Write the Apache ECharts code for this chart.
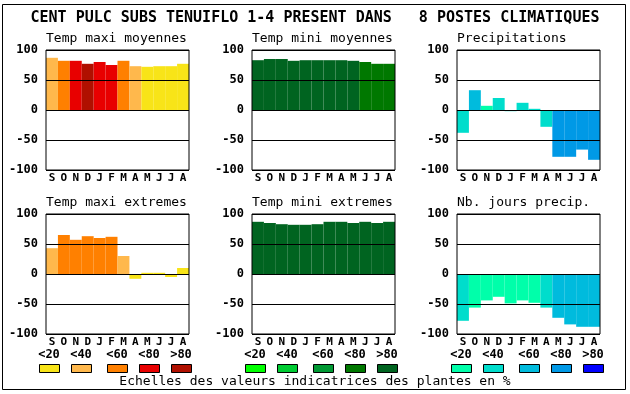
<!DOCTYPE html>
<html><head><meta charset="utf-8">
<script src="https://cdn.jsdelivr.net/npm/echarts@6/dist/echarts.min.js"></script>
<style>html,body{margin:0;padding:0;background:#fff}#c{width:630px;height:394px}</style>
</head><body><div id="c"></div>
<script>
var months = ['S','O','N','D','J','F','M','A','M','J','J','A'];
var yTicks = [-100, -50, 0, 50, 100];
var mainTitle = 'CENT PULC SUBS TENUIFLO 1-4 PRESENT DANS   8 POSTES CLIMATIQUES';
var panelTitles = ['Temp maxi moyennes','Temp mini moyennes','Precipitations','Temp maxi extremes','Temp mini extremes','Nb. jours precip.'];
var classLabels = ['<20','<40','<60','<80','>80'];
var footer = 'Echelles des valeurs indicatrices des plantes en %';

var warmColors  = ['#F8E418','#FFB84C','#FF8000','#E80000','#B01000'];
var greenColors = ['#00FF00','#00CC33','#009933','#007800','#006420'];
var blueColors  = ['#00FFAA','#00DDCC','#00BBDD','#0099E6','#0000FF'];

var tmaxMoy    = [87,82,82,77,80,75,82,73,72,73,73,77];
var tmaxMoyCls = [2,3,4,5,4,4,3,2,1,1,1,1];
var tminMoy    = [83,85,85,82,83,83,83,83,82,80,77,77];
var tminMoyCls = [5,5,5,5,5,5,5,5,5,4,4,4];
var precip     = [-38,33,7,20,-2,12,2,-28,-78,-78,-66,-83];
var precipCls  = [2,3,1,2,2,2,2,2,4,4,4,4];
var tmaxExt    = [43,65,57,63,60,62,30,-8,2,2,-5,10];
var tmaxExtCls = [2,3,3,3,3,3,2,1,1,1,1,1];
var tminExt    = [87,85,83,82,82,83,87,87,85,87,85,87];
var tminExtCls = [5,5,5,5,5,5,5,5,5,5,5,5];
var nbJours    = [-78,-56,-44,-38,-49,-44,-48,-56,-73,-84,-88,-88];
var nbJoursCls = [2,1,1,1,1,1,1,2,3,3,3,3];

var panels = [
  {vals: tmaxMoy, cls: tmaxMoyCls, pal: warmColors},
  {vals: tminMoy, cls: tminMoyCls, pal: greenColors},
  {vals: precip,  cls: precipCls,  pal: blueColors},
  {vals: tmaxExt, cls: tmaxExtCls, pal: warmColors},
  {vals: tminExt, cls: tminExtCls, pal: greenColors},
  {vals: nbJours, cls: nbJoursCls, pal: blueColors}
];
var palettes = [warmColors, greenColors, blueColors];

var FONT = 'DejaVu Sans Mono';
var colLeft = [46, 252, 457];
var rowTop = [50, 214];
var plotW = 143, plotH = 120;

var grids = [], xAxes = [], yAxes = [], series = [];
var titles = [{
  text: mainTitle, left: 'center', top: 11, padding: 0,
  textStyle: {fontFamily: FONT, fontSize: 15, fontWeight: 'bold', color: '#000'}
}];
panels.forEach(function (p, i) {
  var c = i % 3, r = Math.floor(i / 3);
  grids.push({left: colLeft[c], top: rowTop[r], width: plotW, height: plotH,
    show: true, borderColor: '#000', borderWidth: 1, backgroundColor: 'transparent', z: 10});
  xAxes.push({type: 'category', gridIndex: i, data: months,
    axisLine: {show: false}, axisTick: {show: false}, splitLine: {show: false},
    axisLabel: {interval: 0, margin: 3, fontFamily: FONT, fontSize: 11, fontWeight: 'bold', color: '#000'}});
  yAxes.push({type: 'value', gridIndex: i, min: yTicks[0], max: yTicks[yTicks.length - 1], interval: 50, z: 8,
    axisLine: {show: false}, axisTick: {show: false},
    splitLine: {show: true, lineStyle: {color: '#000', width: 1}},
    axisLabel: {margin: 8, fontFamily: FONT, fontSize: 12, fontWeight: 'bold', color: '#000'}});
  series.push({type: 'bar', xAxisIndex: i, yAxisIndex: i, barCategoryGap: '0%', z: 2,
    animation: false,
    data: p.vals.map(function (v, k) { return {value: v, itemStyle: {color: p.pal[p.cls[k] - 1]}}; })});
  titles.push({text: panelTitles[i], left: colLeft[c], top: r === 0 ? 32 : 196, padding: 0,
    textStyle: {fontFamily: FONT, fontSize: 13, fontWeight: 'normal', color: '#000'}});
});

var graphics = [{type: 'rect', shape: {x: 2.5, y: 4.5, width: 623, height: 385},
  style: {fill: 'none', stroke: '#000', lineWidth: 1}, silent: true}];
var swOff = [0, 32, 68, 100, 132];
var groupStart = [39, 245, 451];
palettes.forEach(function (pal, g) {
  pal.forEach(function (col, k) {
    var x = groupStart[g] + swOff[k];
    graphics.push({type: 'text', x: x + 10, y: 355,
      style: {text: classLabels[k], font: 'bold 12px "' + FONT + '"', fill: '#000', align: 'center', verticalAlign: 'middle'}});
    graphics.push({type: 'rect', shape: {x: x + 0.5, y: 364.5, width: 20, height: 8},
      style: {fill: col, stroke: '#000', lineWidth: 1}});
  });
});
graphics.push({type: 'text', x: 315, y: 382,
  style: {text: footer, font: '13px "' + FONT + '"', fill: '#000', align: 'center', verticalAlign: 'middle'}});

var chart = echarts.init(document.getElementById('c'));
chart.setOption({
  animation: false,
  backgroundColor: '#fff',
  title: titles,
  grid: grids, xAxis: xAxes, yAxis: yAxes, series: series,
  graphic: graphics
});
</script></body></html>
